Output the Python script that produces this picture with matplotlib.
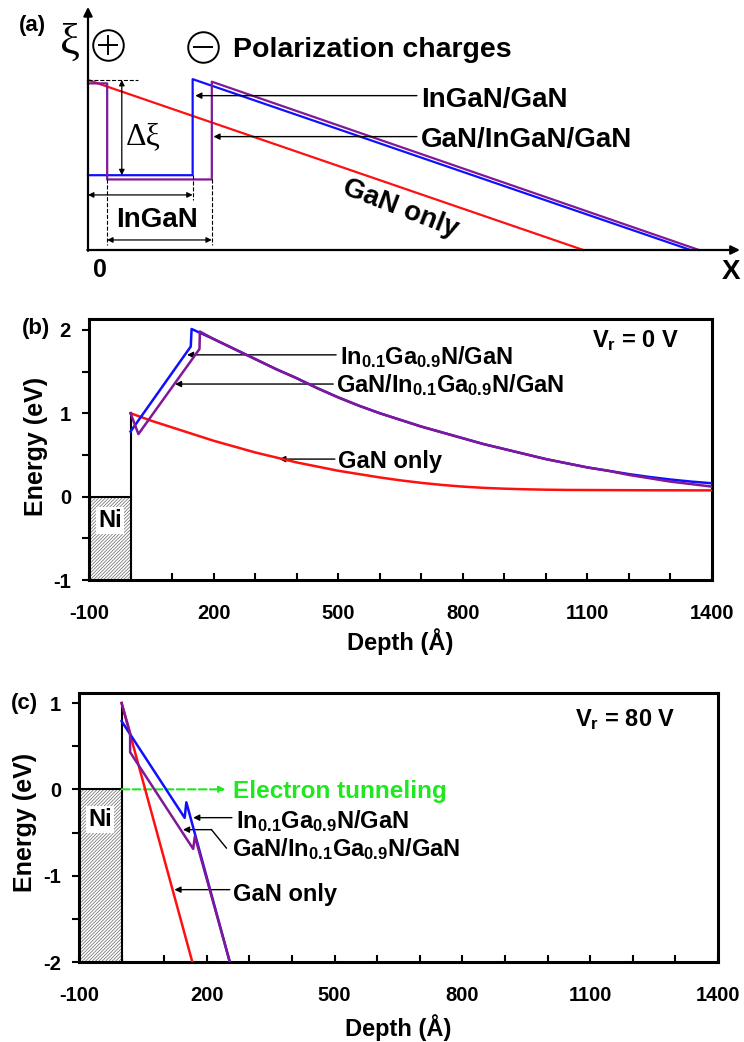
import matplotlib
matplotlib.use('Agg')
import matplotlib.pyplot as plt
from matplotlib.patches import Rectangle

plt.rcParams['font.family'] = ['Liberation Sans', 'DejaVu Sans']
plt.rcParams['font.weight'] = 'bold'
plt.rcParams['axes.labelweight'] = 'bold'
plt.rcParams['axes.unicode_minus'] = False
plt.rcParams['mathtext.fontset'] = 'custom'
plt.rcParams['mathtext.rm'] = 'Liberation Sans:bold'
plt.rcParams['mathtext.it'] = 'Liberation Sans:bold'
plt.rcParams['mathtext.bf'] = 'Liberation Sans:bold'
plt.rcParams['hatch.linewidth'] = 0.5

RED = '#ff1010'
BLUE = '#1010ff'
PURPLE = '#801898'
GREEN = '#1ee81e'

W, H = 744, 1042

# (a) schematic polarization field, arbitrary units
a_gan_x = [0, 76.2]
a_gan_f = [10.0, 0.0]
a_ingan_x = [0, 16.1, 16.1, 92.7]
a_ingan_f = [4.4, 4.4, 10.05, 0.0]
a_cap_x = [0, 2.95, 2.95, 19.05, 19.05, 94.0]
a_cap_f = [9.8, 9.8, 4.15, 4.15, 9.9, 0.0]

# (b) conduction band, Vr = 0 V (depth in A, energy in eV)
b_gan_x = list(range(0, 1401, 50))
b_gan_e = [1.00, 0.91, 0.83, 0.75, 0.67, 0.60, 0.53, 0.47, 0.41, 0.36,
           0.31, 0.27, 0.23, 0.195, 0.165, 0.14, 0.12, 0.105, 0.095, 0.088,
           0.083, 0.08, 0.079, 0.078, 0.077, 0.076, 0.076, 0.075, 0.075]
b_ingan_x = [0, 145, 147] + list(range(200, 1401, 50))
b_ingan_e = [0.78, 1.80, 2.01,
             1.89, 1.77, 1.65, 1.53, 1.42, 1.30, 1.19, 1.09, 1.00, 0.92,
             0.84, 0.77, 0.70, 0.63, 0.57, 0.51, 0.45, 0.40, 0.35, 0.31,
             0.27, 0.235, 0.205, 0.18, 0.16]
b_cap_x = [0, 19, 166, 167] + list(range(200, 1401, 50))
b_cap_e = [1.00, 0.75, 1.77, 1.98,
           1.89, 1.77, 1.65, 1.53, 1.42, 1.30, 1.19, 1.09, 1.00, 0.92,
           0.84, 0.77, 0.70, 0.63, 0.57, 0.51, 0.45, 0.40, 0.35, 0.31,
           0.26, 0.22, 0.18, 0.15, 0.12]

# (c) conduction band, Vr = 80 V
c_gan_x = [0, 166]
c_gan_e = [1.00, -2.00]
c_ingan_x = [0, 148, 152, 254]
c_ingan_e = [0.79, -0.33, -0.15, -2.00]
c_cap_x = [0, 20, 20, 168, 172, 254]
c_cap_e = [1.00, 0.65, 0.43, -0.69, -0.545, -2.00]

barrier = 1.0        # Schottky barrier height (eV)
ni_thick = 100       # Ni layer shown (A)
depth_ticks = [-100, 200, 500, 800, 1100, 1400]
depth_minor = list(range(-100, 1401, 100))

labels = [r'In$_{0.1}$Ga$_{0.9}$N/GaN', r'GaN/In$_{0.1}$Ga$_{0.9}$N/GaN', 'GaN only']


def fig_rect(left, top, right, bottom):
    return [left / W, 1 - bottom / H, (right - left) / W, (bottom - top) / H]


def arrow(ax, head, tail, lw=1.0, scale=9, style='-|>'):
    ax.annotate('', xy=head, xytext=tail, annotation_clip=False,
                arrowprops=dict(arrowstyle=style, color='black', lw=lw,
                                mutation_scale=scale, shrinkA=0, shrinkB=0))


def charge_sign(ax, x, y, sign):
    # circled + / - drawn from markers so the ring stays thin
    ax.plot([x], [y], marker='o', ms=22, mfc='none', mec='black', mew=1.4,
            clip_on=False)
    ax.plot([x], [y], marker='+' if sign > 0 else '_', ms=15, mec='black',
            mew=1.4, clip_on=False)


def energy_axes(ax, ymin, ymax, yticks, yminor):
    ax.set_xlim(-100, 1400)
    ax.set_ylim(ymin, ymax)
    ax.set_xticks(depth_ticks)
    ax.set_xticks(depth_minor, minor=True)
    ax.set_yticks(yticks)
    ax.set_yticks(yminor, minor=True)
    ax.tick_params(axis='x', which='both', direction='in', length=5, width=1.5,
                   pad=17, labelsize=14.5)
    ax.tick_params(axis='y', which='both', direction='out', length=5, width=1.5,
                   pad=8, labelsize=14.5)
    for s in ax.spines.values():
        s.set_linewidth(2.2)
    ax.set_xlabel('Depth (Å)', fontsize=17)
    ax.set_ylabel('Energy (eV)', fontsize=18)
    # Ni contact: hatched metal below the Fermi level
    ax.add_patch(Rectangle((-ni_thick, ymin), ni_thick, -ymin, facecolor='white',
                           edgecolor='0.4', hatch='/' * 10, lw=0, zorder=1))
    ax.plot([-ni_thick, 0], [0, 0], color='black', lw=1.5, zorder=3)
    ax.plot([0, 0], [ymin, barrier], color='black', lw=1.5, zorder=3)


fig = plt.figure(figsize=(W / 100, H / 100), dpi=100)

# ---------------- (a) ----------------
ax = fig.add_axes(fig_rect(88, 80, 738, 250))
ax.set_xlim(0, 100)
ax.set_ylim(0, 10)
ax.axis('off')
ax.plot(a_gan_x, a_gan_f, color=RED, lw=1.6, clip_on=False)
ax.plot(a_ingan_x, a_ingan_f, color=BLUE, lw=1.6, clip_on=False)
ax.plot(a_cap_x, a_cap_f, color=PURPLE, lw=1.6, clip_on=False)
arrow(ax, (0, 14.3), (0, -0.05), lw=1.6, scale=13)
arrow(ax, (100.3, 0), (-0.1, 0), lw=1.6, scale=13)

ax.plot([0, 7.7], [10.0, 10.0], color='black', lw=0.8, ls='--', clip_on=False)
arrow(ax, (5.2, 10.0), (5.2, 4.4), lw=0.9, scale=8, style='<|-|>')
ax.text(8.5, 6.65, 'Δξ', fontsize=23, fontweight='normal', family='Liberation Serif',
        ha='center', va='center')
ax.plot([2.95, 2.95], [4.15, 0.3], color='black', lw=0.8, ls='--', clip_on=False)
ax.plot([16.1, 16.1], [4.4, 2.95], color='black', lw=0.8, ls='--', clip_on=False)
ax.plot([19.05, 19.05], [4.15, 0.3], color='black', lw=0.8, ls='--', clip_on=False)
arrow(ax, (0, 3.24), (16.1, 3.24), lw=0.9, scale=8, style='<|-|>')
arrow(ax, (2.95, 0.59), (19.05, 0.59), lw=0.9, scale=8, style='<|-|>')
ax.text(10.6, 1.37, 'InGaN', fontsize=20, ha='center', va='baseline')

charge_sign(ax, 3.1, 12.06, +1)
charge_sign(ax, 17.7, 11.94, -1)
ax.text(22.3, 11.37, 'Polarization charges', fontsize=20.5, ha='left', va='baseline')

arrow(ax, (16.5, 9.08), (50.6, 9.08))
ax.text(51.2, 8.43, 'InGaN/GaN', fontsize=20, ha='left', va='baseline')
arrow(ax, (19.3, 6.67), (50.6, 6.67))
ax.text(51.2, 6.08, 'GaN/InGaN/GaN', fontsize=20, ha='left', va='baseline')
ax.text(48, 2.45, 'GaN only', fontsize=20, rotation=-21, rotation_mode='anchor',
        ha='center', va='center')

ax.text(1.85, -1.18, '0', fontsize=18, ha='center', va='center')
ax.text(98.9, -1.3, 'X', fontsize=20, ha='center', va='center')
ax.text(-2.8, 12.2, 'ξ', fontsize=32, fontweight='normal', family='Liberation Serif',
        ha='center', va='center')
ax.text(-8.5, 13.2, '(a)', fontsize=16, ha='center', va='center')

# ---------------- (b) ----------------
ax = fig.add_axes(fig_rect(89, 319, 712, 580))
energy_axes(ax, -1, 2.13, [-1, 0, 1, 2], [-0.5, 0.5, 1.5])
ax.plot(b_gan_x, b_gan_e, color=RED, lw=1.8, zorder=4)
ax.plot(b_ingan_x, b_ingan_e, color=BLUE, lw=1.8, zorder=4)
ax.plot(b_cap_x, b_cap_e, color=PURPLE, lw=1.8, zorder=5)
ax.text(-50, -0.29, 'Ni', fontsize=17, ha='center', va='center', zorder=6,
        bbox=dict(facecolor='white', edgecolor='none', pad=1.5))

arrow(ax, (136, 1.70), (495, 1.70))
ax.text(505, 1.59, labels[0], fontsize=17, ha='left', va='baseline')
arrow(ax, (107, 1.35), (488, 1.35))
ax.text(495, 1.257, labels[1], fontsize=17, ha='left', va='baseline')
arrow(ax, (358, 0.45), (492, 0.45))
ax.text(500, 0.348, labels[2], fontsize=17, ha='left', va='baseline')
ax.text(1111, 1.79, r'V$_{\rm r}$ = 0 V', fontsize=17, ha='left', va='baseline')
ax.xaxis.set_label_coords(0.5, -0.236)
ax.xaxis.label.set_va('center')
ax.yaxis.set_label_coords(-0.085, 0.51)
ax.yaxis.label.set_va('center')
fig.text(35.7 / W, 1 - 328 / H, '(b)', fontsize=16, ha='center', va='center')

# ---------------- (c) ----------------
ax = fig.add_axes(fig_rect(79, 693, 718, 962))
energy_axes(ax, -2, 1.116, [-2, -1, 0, 1], [-1.5, -0.5, 0.5])
ax.plot(c_gan_x, c_gan_e, color=RED, lw=1.8, zorder=4)
ax.plot(c_ingan_x, c_ingan_e, color=BLUE, lw=1.8, zorder=4)
ax.plot(c_cap_x, c_cap_e, color=PURPLE, lw=1.8, zorder=5)
ax.text(-50, -0.35, 'Ni', fontsize=17, ha='center', va='center', zorder=6,
        bbox=dict(facecolor='white', edgecolor='none', pad=1.5))

ax.annotate('', xy=(244, 0), xytext=(0, 0),
            arrowprops=dict(arrowstyle='-|>', color=GREEN, lw=1.5, ls='--',
                            mutation_scale=9, shrinkA=0, shrinkB=0))
ax.text(261.6, -0.096, 'Electron tunneling', fontsize=17.5, color=GREEN,
        ha='left', va='baseline')

arrow(ax, (168, -0.328), (259, -0.328))
ax.text(268, -0.444, labels[0], fontsize=17, ha='left', va='baseline')
ax.plot([246, 211], [-0.68, -0.467], color='black', lw=1.0)
arrow(ax, (144, -0.467), (211, -0.467))
ax.text(258, -0.776, labels[1], fontsize=17, ha='left', va='baseline')
arrow(ax, (124, -1.162), (254, -1.162))
ax.text(261, -1.29, labels[2], fontsize=17, ha='left', va='baseline')
ax.text(1065, 0.73, r'V$_{\rm r}$ = 80 V', fontsize=17, ha='left', va='baseline')
ax.xaxis.set_label_coords(0.5, -0.242)
ax.xaxis.label.set_va('center')
ax.yaxis.set_label_coords(-0.085, 0.52)
ax.yaxis.label.set_va('center')
fig.text(24 / W, 1 - 703 / H, '(c)', fontsize=16, ha='center', va='center')

fig.savefig('out.png', dpi=100)
